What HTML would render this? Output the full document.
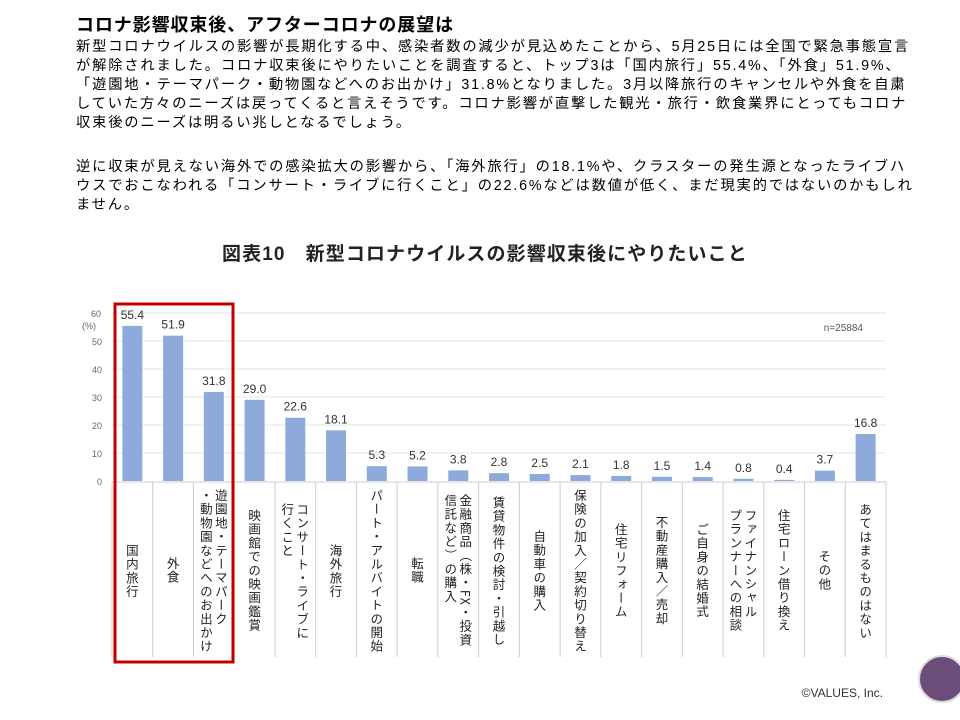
<!DOCTYPE html>
<html><head><meta charset="utf-8">
<style>
body{margin:0;background:#fff;width:960px;height:720px;overflow:hidden;position:relative;font-family:"Liberation Sans","Noto Sans CJK JP",sans-serif;color:#000}
.t{position:absolute;left:76px;white-space:nowrap}
#title{top:11px;font-size:18px;font-weight:bold;letter-spacing:0.9px}
.ln{font-size:14.3px;line-height:19px;letter-spacing:1.8px}
#ctitle{position:absolute;left:222px;top:239px;font-size:19px;font-weight:bold;color:#222;white-space:nowrap;letter-spacing:1.1px}
</style></head><body>
<div id="title" class="t">コロナ影響収束後、アフターコロナの展望は</div>
<div class="t ln" style="top:38px">新型コロナウイルスの影響が長期化する中、感染者数の減少が見込めたことから、5月25日には全国で緊急事態宣言<br>が解除されました。コロナ収束後にやりたいことを調査すると、トップ3は「国内旅行」55.4%、「外食」51.9%、<br>「遊園地・テーマパーク・動物園などへのお出かけ」31.8%となりました。3月以降旅行のキャンセルや外食を自粛<br>していた方々のニーズは戻ってくると言えそうです。コロナ影響が直撃した観光・旅行・飲食業界にとってもコロナ<br>収束後のニーズは明るい兆しとなるでしょう。</div>
<div class="t ln" style="top:158px">逆に収束が見えない海外での感染拡大の影響から、「海外旅行」の18.1%や、クラスターの発生源となったライブハ<br>ウスでおこなわれる「コンサート・ライブに行くこと」の22.6%などは数値が低く、まだ現実的ではないのかもしれ<br>ません。</div>
<div id="ctitle">図表10　新型コロナウイルスの影響収束後にやりたいこと</div>
<svg id="chart" width="960" height="720" style="position:absolute;left:0;top:0"></svg>
<script>
const categories=["国内旅行","外食","遊園地・テーマパーク\n・動物園などへのお出かけ","映画館での映画鑑賞","コンサート・ライブに\n行くこと","海外旅行","パート・アルバイトの開始","転職","金融商品（株・FX・投資\n信託など）の購入","賃貸物件の検討・引越し","自動車の購入","保険の加入／契約切り替え","住宅リフォーム","不動産購入／売却","ご自身の結婚式","ファイナンシャル\nプランナーへの相談","住宅ローン借り換え","その他","あてはまるものはない"];
const values=[55.4,51.9,31.8,29.0,22.6,18.1,5.3,5.2,3.8,2.8,2.5,2.1,1.8,1.5,1.4,0.8,0.4,3.7,16.8];
const valueLabels=["55.4","51.9","31.8","29.0","22.6","18.1","5.3","5.2","3.8","2.8","2.5","2.1","1.8","1.5","1.4","0.8","0.4","3.7","16.8"];
const ticks=[0,10,20,30,40,50,60];
const NS="http://www.w3.org/2000/svg";
const svg=document.getElementById('chart');
const x0=112,x1=886,y0=481,yTop=313,ymax=60;
const bw=(x1-x0)/categories.length;
const y=v=>y0-(v/ymax)*(y0-yTop);
const xc=i=>x0+bw*(i+0.5);
function mk(t,a){const e=document.createElementNS(NS,t);for(const k in a)e.setAttribute(k,a[k]);svg.appendChild(e);return e;}
ticks.forEach(t=>{
  if(t>0){const g=mk('line',{x1:x0,x2:x1,y1:y(t),y2:y(t),stroke:'#e6e6e6','stroke-width':1});
  
  }
  const l=mk('text',{x:t===60?101:102,y:y(t)+4,'font-size':9,fill:'#666','text-anchor':'end'});
  l.textContent=t;
  
  
});
const u=mk('text',{x:82,y:y(60)+16,'font-size':9,fill:'#666'});u.textContent='(%)';


const ax=mk('line',{x1:x0,x2:x1,y1:y0+1,y2:y0+1,stroke:'#ccc','stroke-width':1});


for(let i=0;i<=categories.length;i++){const s=mk('line',{x1:x0+bw*i,x2:x0+bw*i,y1:y0+1,y2:657,stroke:'#ccc','stroke-width':1});

}
values.forEach((v,i)=>{
  const r=mk('rect',{x:xc(i)-10,y:y(v),width:20,height:y0-y(v),fill:'#8eaadb'});
  
  
  const t=mk('text',{x:xc(i),y:y(v)-7,'font-size':12,fill:'#333','text-anchor':'middle'});
  t.textContent=valueLabels[i];
  
  
  const fo=mk('foreignObject',{x:x0+bw*i,y:y0+4,width:bw,height:172});
  const d=document.createElement('div');
  d.style.cssText='width:'+bw+'px;height:172px;display:flex;align-items:center;justify-content:center;';
  const s=document.createElement('div');
  s.style.cssText='writing-mode:vertical-rl;white-space:pre;font-size:12.5px;line-height:15px;color:#222;font-family:"Noto Sans CJK JP",sans-serif;letter-spacing:1.2px';
  s.textContent=categories[i];
  
  
  d.appendChild(s);fo.appendChild(d);
});
const box=mk('rect',{x:115,y:304,width:118,height:358,fill:'none',stroke:'#c00000','stroke-width':3});


const n=mk('text',{x:863,y:331,'font-size':10,fill:'#555','text-anchor':'end'});n.textContent='n=25884';


const c=mk('text',{x:883,y:697,'font-size':12,fill:'#333','text-anchor':'end'});c.textContent='©VALUES, Inc.';


const lg=mk('circle',{cx:942,cy:679,r:23,fill:'#6b4d7a',stroke:'#ddd','stroke-width':2});


</script>
</body></html>
